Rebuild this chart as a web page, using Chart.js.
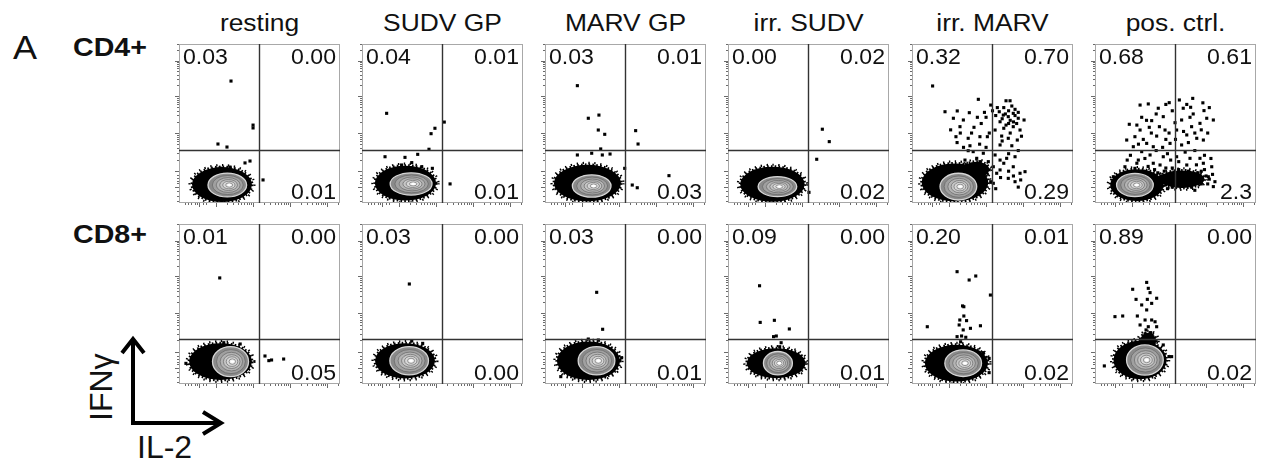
<!DOCTYPE html>
<html>
<head>
<meta charset="utf-8">
<script src="https://cdn.jsdelivr.net/npm/chart.js@4.4.1/dist/chart.umd.min.js"></script>
<style>
  html, body { margin: 0; padding: 0; background: #fff; }
  #stage { position: relative; width: 1265px; height: 468px; overflow: hidden; background: #fff; }
  #stage canvas { position: absolute; }
  #overlay { position: absolute; left: 0; top: 0; }
  text { font-family: "Liberation Sans", Arial, sans-serif; fill: #111; }
</style>
</head>
<body>
<div id="stage">
  <svg id="overlay" width="1265" height="468" xmlns="http://www.w3.org/2000/svg"></svg>
</div>
<script>
// ---------------- DATA ----------------
const columns = ["resting", "SUDV GP", "MARV GP", "irr. SUDV", "irr. MARV", "pos. ctrl."];
const rowLabels = ["CD4+", "CD8+"];
const panelLetter = "A";
const yAxisLabel = "IFNγ";
const xAxisLabel = "IL-2";

// quadrant percentages
const cd4UpperLeft  = ["0.03", "0.04", "0.03", "0.00", "0.32", "0.68"];
const cd4UpperRight = ["0.00", "0.01", "0.01", "0.02", "0.70", "0.61"];
const cd4LowerRight = ["0.01", "0.01", "0.03", "0.02", "0.29", "2.3"];
const cd8UpperLeft  = ["0.01", "0.03", "0.03", "0.09", "0.20", "0.89"];
const cd8UpperRight = ["0.00", "0.00", "0.00", "0.00", "0.01", "0.00"];
const cd8LowerRight = ["0.05", "0.00", "0.01", "0.01", "0.02", "0.02"];

// gates (axis units, 0-100 display scale)
const il2Gate = 49.5;
const ifngGateCD4 = 33.5;
const ifngGateCD8 = 28;

// biexponential-looking axis ticks (display units)
const il2MajorTicks = [13, 23, 46, 69, 92];
const il2MinorTicks = [4, 6, 8, 10, 11.5, 15, 17, 29.9, 34, 36.8, 39.1, 40.8, 42.4, 43.7, 44.9,
  52.9, 57, 59.8, 62.1, 63.9, 65.4, 66.8, 68, 75.9, 80, 82.8, 85.1, 86.9, 88.4, 89.8, 91, 99];
const ifngMajorTicks = [10, 19.7, 43.8, 66.9, 89.3];
const ifngMinorTicks = [1, 4, 7, 12, 13.5, 15.5, 17, 26.9, 31.2, 34.2, 36.5, 38.4, 40, 41.5, 42.7,
  50.8, 54.8, 57.7, 59.9, 61.7, 63.3, 64.7, 65.9, 73.6, 77.6, 80.4, 82.6, 84.3, 85.8, 87.1, 88.3, 95.6, 99.6];

// individual events outside the dense population [IL-2, IFNγ]
const cd4Events = [
  [[32.3,76.7],[46,49],[46,47.2],[24.2,37.1],[29.8,35.2],[41,25.2],[44.1,26.4],[52.2,14.5],[25.5,22],[31.7,22.6]],
  [[15.3,56.4],[51.1,50.9],[45.3,47],[42.9,43.6],[41.6,33.8],[14.3,29.1],[26.7,28.7],[34.6,30.6],[54.7,12],
   [24.6,23.9],[30.9,25.4],[37.1,22.8],[43.7,21.8],[20.5,21.8]],
  [[20.1,73.8],[26.9,53.3],[33.5,55.3],[33.1,45.9],[37.1,43.2],[34.6,34],[56.3,45.5],[57.8,37.1],[77,17.2],
   [54.2,11.3],[57.3,9.6],[49.5,21.8],[20.1,30.2],[29,31.3],[35.6,30.2],[40.4,30.8]],
  [[58.6,46.4],[62.9,38.6],[55.1,27.5],[50.3,6.7]],
  [[12.8,73.6],[41.2,65.2],[58.4,64.3],[60.9,64.3],[48.9,61.6],[20.5,57.4],[28.1,57.9],[35.6,56.8],[25.7,53.3],
   [31.9,52.2],[40.6,53.9],[46,53.9],[54.2,57.4],[56.7,55.3],[59.8,54.3],[62.9,56.4],[66,53.3],[69.6,52.2],
   [64,58.9],[54.7,51.1],[58.4,49],[62.9,48],[67.1,45.9],[51.6,45.9],[29.8,48],[38.5,47.6],[27.3,41.7],
   [34.9,40.7],[42.2,41.7],[46.8,41.7],[55.7,42.1],[59.8,40.7],[65.4,39.6],[54.7,36.5],[34.9,32.9],[38,32.3],
   [51.6,30.2],[54.7,27],[58.8,28.1],[64,29.1],[32.9,27],[42.2,26],[47.4,26],[50.5,22.8],[54.7,20.8],
   [62.9,22.8],[67.1,18.7],[70.2,19.7],[59.8,15.5],[64,13.4],[67.5,14.5],[50.5,12.4],[48.9,13.4],[52.6,18.7],
   [44.3,31.3],[40.2,28.1],[57,60],[60,58],[62,61],[58,56],[61,52],[64,55],[66,57],[56,53],[53,60],[63,51],
   [60,50],[57,47],[65,50],[52,55],[50,58],[45,57],[43,50],[37,44],[30,44],[24,46],[48,44],[61,44],[68,42],
   [56,39],[62,36],[66,33],[60,31],[57,25],[60,20],[63,17],[55,16],[52,9],[66,10],[46,35],[42,37],[36,36],
   [28,38],[32,35]],
  [[28,61.6],[33.1,62.3],[39.3,59.6],[46.1,63.1],[52.4,64.8],[54.8,59.6],[60.7,65.8],[59.4,60.2],[67.7,58.1],
   [73.5,52.2],[69.4,53.3],[21.3,49.5],[29,53.9],[35.2,51.8],[42.4,54.3],[49.7,50.5],[53.8,52.2],[59,53.9],
   [65.2,50.1],[28,45.9],[33.7,47.6],[38.3,42.1],[43.5,45.9],[50.7,45.9],[57,42.8],[63.2,40.7],[67.3,39.6],
   [19.7,39.6],[24.8,41.7],[32.1,37.5],[36.2,35.4],[46.6,37.5],[53.8,36.5],[23.8,35.4],[29,32.3],[34.2,30.2],
   [42.4,29.1],[50.7,29.1],[59,28.1],[65.2,28.1],[26.9,27],[36.2,25],[40.4,23.9],[57,23.9],[67.3,25],
   [72.5,22.8],[70.4,16.5],[74.5,13.4],[73.5,10.3],[18.6,22.8],[24.8,21.8],[11.4,16.5],
   [30,40],[35,44],[40,48],[44,40],[38,33],[42,35],[27,37],[22,30],[31,28],[45,31],[47,27],[33,23],[37,21],
   [30,20],[43,20],[26,25],[20,27],[55,45],[60,48],[62,44],[56,32],[62,33],[66,46],[70,44],[58,38],[52,26],
   [48,22],[68,30],[72,28],[63,24],[61,56],[57,62],[48,58],[44,62],[38,56],[32,52],[26,49],[50,40],[46,44],
   [67,63],[71,60],[64,19],[68,21],[73,18],[70,12],[66,12],[60,10],[62,8],[48,10],[45,9],
   [39,19],[41,17],[44,22],[69,17],[71,15],[66,20],[58,20],[52,21]]
];
const cd8Events = [
  [[25.3,66.3],[53.4,17.5],[55.8,14.6],[57.5,15],[65,15.6],[27.8,25.8],[38,25],[4.3,12.9]],
  [[29.4,62.5],[30.9,26.9],[37.7,25.4]],
  [[32.1,57.3],[35.8,34.2],[26.9,28.1],[33.1,27.5],[47.6,16.4],[9.8,4.6]],
  [[19.6,61.4],[20,38.5],[28.8,39.8],[38.1,34.4],[28.3,29.6],[30,30],[33,25.8],[32.1,23.3]],
  [[28,70.2],[35.5,65],[39.6,67.5],[48.7,55.6],[9.5,35.8],[31.4,48.8],[32.2,48.3],[32.2,42.5],[29.7,40],
   [33.9,39.6],[29.3,36.9],[36.3,34.8],[42.5,36.4],[31.8,33.8],[28,29.6],[30.8,30],[33.4,29.2],[30.2,26.4],
   [31.4,23.3],[47.9,16],[47.9,7.1],[44.2,19.6]],
  [[32.1,63.5],[23.4,59.2],[33.1,59.8],[34.2,57.1],[25.5,52.9],[32.5,52.9],[38.3,53.6],[29,49.4],[35.2,50.4],
   [32.1,46.3],[17.2,42.5],[12.4,42.1],[26.3,42.5],[31.1,40],[35.2,40],[37.3,38.9],[28,36.9],[33.1,35.8],
   [38.3,35.8],[31.7,33.8],[34.6,32.1],[33.1,29.6],[31.1,31.3],[29,27.5],[42.4,24.4],[46.1,17.1],[47.6,17.1],
   [5.8,11.3]]
];

// dense population extents [centre IL-2, centre IFNγ, half-width, half-height]
const cd4Cores = [
  [[26.7,11.6,18.6,11]],
  [[27,12.5,19,11]],
  [[26.4,12.5,20.8,11.5]],
  [[27.6,11.8,20,11]],
  [[26.7,12.9,20.7,12],[40,21,8,5]],
  [[26,11.3,16.6,10],[54,15,14,5.5]]
];
const cd8Cores = [
  [[25.8,14,19.5,11.5]],
  [[26.7,14.5,18.6,11]],
  [[27,14.5,19.6,12]],
  [[29.9,13,18.2,9.4]],
  [[27.6,13,19.6,11.5]],
  [[28,15,16.5,12],[33,27,5,5]]
];
const cd4Contours = [
  [30,11.3,12,7.5], [30.5,12,13,7], [29,10.7,12,7], [30.7,10.3,12,6.3], [28.8,10.3,11.4,8.4], [24.8,11.3,11.4,7.3]
];
const cd8Contours = [
  [32,14,11.2,9.4], [29.3,14.5,12,8.8], [32,14.5,11.4,8.8], [31,13,9,7.3], [31.8,13,11.4,8.3], [31,15,11.4,9.4]
];

// ---------------- LAYOUT ----------------
const FONT = '"Liberation Sans", Arial, sans-serif';
const boxLefts = [179, 362, 545, 728, 912, 1095];
const boxW = 161;
const rowTops = [44, 224];
const rowHeights = [159, 160];

// ---------------- OVERLAY TEXT / ARROWS ----------------
const svg = document.getElementById('overlay');
const NS = 'http://www.w3.org/2000/svg';
function svgText(str, attrs, transform) {
  const t = document.createElementNS(NS, 'text');
  for (const k in attrs) t.setAttribute(k, attrs[k]);
  if (transform) t.setAttribute('transform', transform);
  t.textContent = str;
  svg.appendChild(t);
  return t;
}
columns.forEach((c, i) => {
  const cx = boxLefts[i] + boxW / 2;
  svgText(c, {x: 0, y: 0, 'text-anchor': 'middle', 'font-size': 24}, `translate(${cx},31) scale(1.1,1)`);
});
svgText(panelLetter, {x: 0, y: 0, 'font-size': 34}, 'translate(13,59) scale(1.06,1)');
svgText(rowLabels[0], {x: 0, y: 0, 'font-size': 26, 'font-weight': 'bold'}, 'translate(73,56) scale(1.1,1)');
svgText(rowLabels[1], {x: 0, y: 0, 'font-size': 26, 'font-weight': 'bold'}, 'translate(73,243) scale(1.1,1)');
svgText(yAxisLabel, {x: 112, y: 421, 'font-size': 32}, 'rotate(-90 112 421)');
svgText(xAxisLabel, {x: 137, y: 458, 'font-size': 32});
(function arrows() {
  const mk = (pts) => {
    const p = document.createElementNS(NS, 'polyline');
    p.setAttribute('points', pts);
    p.setAttribute('fill', 'none');
    p.setAttribute('stroke', '#000');
    p.setAttribute('stroke-width', 4);
    p.setAttribute('stroke-linejoin', 'miter');
    svg.appendChild(p);
  };
  mk('133,339 133,423 221,423');
  mk('122,353 133,339 144,353');
  mk('203,412 221,423 203,434');
})();

// ---------------- CHARTS ----------------
const stage = document.getElementById('stage');

function makeFlowPlugin(panel) {
  return {
    id: 'flow' + panel.id,
    beforeDatasetsDraw(chart) {
      const {ctx, chartArea: a, scales: {x, y}} = chart;
      const ell = (e) => {
        const cx = x.getPixelForValue(e[0]);
        const cy = y.getPixelForValue(e[1]);
        return {cx, cy,
          rx: Math.abs(x.getPixelForValue(e[0] + e[2]) - cx),
          ry: Math.abs(y.getPixelForValue(e[1] + e[3]) - cy)};
      };
      ctx.save();
      ctx.beginPath();
      ctx.rect(a.left, a.top, a.right - a.left, a.bottom - a.top);
      ctx.clip();
      // dense black population
      panel.cores.forEach(e => {
        const p = ell(e);
        ctx.beginPath();
        ctx.ellipse(p.cx, p.cy, p.rx, p.ry, 0, 0, Math.PI * 2);
        ctx.fillStyle = '#000';
        ctx.fill();
        ctx.strokeStyle = '#000';
        ctx.lineWidth = 3;
        ctx.setLineDash([1.6, 2.2]);
        ctx.stroke();
        ctx.beginPath();
        ctx.ellipse(p.cx, p.cy, p.rx + 2.5, p.ry + 2, 0, 0, Math.PI * 2);
        ctx.lineWidth = 2.2;
        ctx.setLineDash([1.4, 4.5]);
        ctx.stroke();
        ctx.setLineDash([]);
      });
      // contour levels
      const c = ell(panel.contour);
      const levels = [1, 0.8, 0.62, 0.46, 0.32, 0.18];
      const fills = ['#8a8a8a', '#a0a0a0', '#b4b4b4', '#c6c6c6', '#d8d8d8', '#ececec'];
      levels.forEach((f, i) => {
        ctx.beginPath();
        ctx.ellipse(c.cx + (1 - f) * c.rx * 0.12, c.cy, c.rx * f, c.ry * f, 0, 0, Math.PI * 2);
        ctx.fillStyle = fills[i];
        ctx.fill();
        ctx.strokeStyle = i === 0 ? '#d6d6d6' : '#5a5a5a';
        ctx.lineWidth = i === 0 ? 1.3 : 0.6;
        ctx.stroke();
      });
      ctx.beginPath();
      ctx.ellipse(c.cx + c.rx * 0.1, c.cy, 1.8, 1.2, 0, 0, Math.PI * 2);
      ctx.fillStyle = '#fff';
      ctx.fill();
      ctx.restore();
    },
    afterDatasetsDraw(chart) {
      const {ctx, chartArea: a, scales: {x, y}} = chart;
      ctx.save();
      // frame
      ctx.strokeStyle = '#a8a8a8';
      ctx.lineWidth = 1;
      ctx.strokeRect(a.left + 0.5, a.top + 0.5, a.right - a.left - 1, a.bottom - a.top - 1);
      // quadrant gates
      const gx = Math.round(x.getPixelForValue(il2Gate)) + 0.5;
      const gy = Math.round(y.getPixelForValue(panel.gateY)) + 0.5;
      ctx.strokeStyle = '#333';
      ctx.lineWidth = 1.4;
      ctx.beginPath();
      ctx.moveTo(gx, a.top); ctx.lineTo(gx, a.bottom);
      ctx.moveTo(a.left, gy); ctx.lineTo(a.right, gy);
      ctx.stroke();
      // quadrant labels
      ctx.fillStyle = '#111';
      ctx.font = '22px ' + FONT;
      ctx.textBaseline = 'alphabetic';
      const put = (s, px, py, align) => {
        ctx.save();
        ctx.translate(px, py);
        ctx.scale(1.05, 1);
        ctx.textAlign = align;
        ctx.fillText(s, 0, 0);
        ctx.restore();
      };
      put(panel.ul, a.left + 4, a.top + 20, 'left');
      put(panel.ur, a.right - 4, a.top + 20, 'right');
      put(panel.lr, a.right - 4, a.bottom - 4, 'right');
      ctx.restore();
    }
  };
}

function buildPanel(row, col) {
  const isCD4 = row === 0;
  const panel = {
    id: row + '_' + col,
    events: (isCD4 ? cd4Events : cd8Events)[col],
    cores: (isCD4 ? cd4Cores : cd8Cores)[col],
    contour: (isCD4 ? cd4Contours : cd8Contours)[col],
    gateY: isCD4 ? ifngGateCD4 : ifngGateCD8,
    ul: (isCD4 ? cd4UpperLeft : cd8UpperLeft)[col],
    ur: (isCD4 ? cd4UpperRight : cd8UpperRight)[col],
    lr: (isCD4 ? cd4LowerRight : cd8LowerRight)[col]
  };
  const padL = 2, padT = 4, padR = 4, padB = 2, tick = 4;
  const canvas = document.createElement('canvas');
  canvas.width = padL + tick + boxW + padR;
  canvas.height = padT + rowHeights[row] + tick + padB;
  canvas.style.width = canvas.width + 'px';
  canvas.style.height = canvas.height + 'px';
  canvas.style.left = (boxLefts[col] - padL - tick) + 'px';
  canvas.style.top = (rowTops[row] - padT) + 'px';
  stage.appendChild(canvas);

  const xTicks = il2MajorTicks.concat(il2MinorTicks);
  const yTicks = ifngMajorTicks.concat(ifngMinorTicks);

  const chart = new Chart(canvas, {
    type: 'scatter',
    data: {
      datasets: [{
        data: panel.events.map(p => ({x: p[0], y: p[1]})),
        pointStyle: 'rect',
        pointRadius: 2.2,
        pointHoverRadius: 2.2,
        backgroundColor: '#000',
        borderColor: '#000',
        borderWidth: 0
      }]
    },
    options: {
      responsive: false,
      animation: false,
      events: [],
      layout: {padding: {left: padL, top: padT, right: padR, bottom: padB}},
      plugins: {legend: {display: false}, tooltip: {enabled: false}, title: {display: false}},
      scales: {
        x: {
          type: 'linear', position: 'bottom', min: 0, max: 100,
          afterBuildTicks: s => { s.ticks = xTicks.map(v => ({value: v})); },
          ticks: {display: false},
          border: {display: false},
          grid: {
            drawOnChartArea: false, drawTicks: true, tickLength: tick, tickWidth: 1, tickColor: '#6a6a6a',
            tickBorderDash: c => (c.tick && il2MajorTicks.includes(c.tick.value)) ? [] : [2, 20]
          }
        },
        y: {
          type: 'linear', position: 'left', min: 0, max: 100,
          afterBuildTicks: s => { s.ticks = yTicks.map(v => ({value: v})); },
          ticks: {display: false},
          border: {display: false},
          grid: {
            drawOnChartArea: false, drawTicks: true, tickLength: tick, tickWidth: 1, tickColor: '#6a6a6a',
            tickBorderDash: c => (c.tick && ifngMajorTicks.includes(c.tick.value)) ? [] : [0, 2, 2, 20]
          }
        }
      }
    },
    plugins: [makeFlowPlugin(panel)]
  });
  // align chart area exactly on the panel box
  const a = chart.chartArea;
  canvas.style.left = (boxLefts[col] - a.left) + 'px';
  canvas.style.top = (rowTops[row] - a.top) + 'px';
}

for (let r = 0; r < 2; r++) {
  for (let c = 0; c < 6; c++) buildPanel(r, c);
}
</script>
</body>
</html>
